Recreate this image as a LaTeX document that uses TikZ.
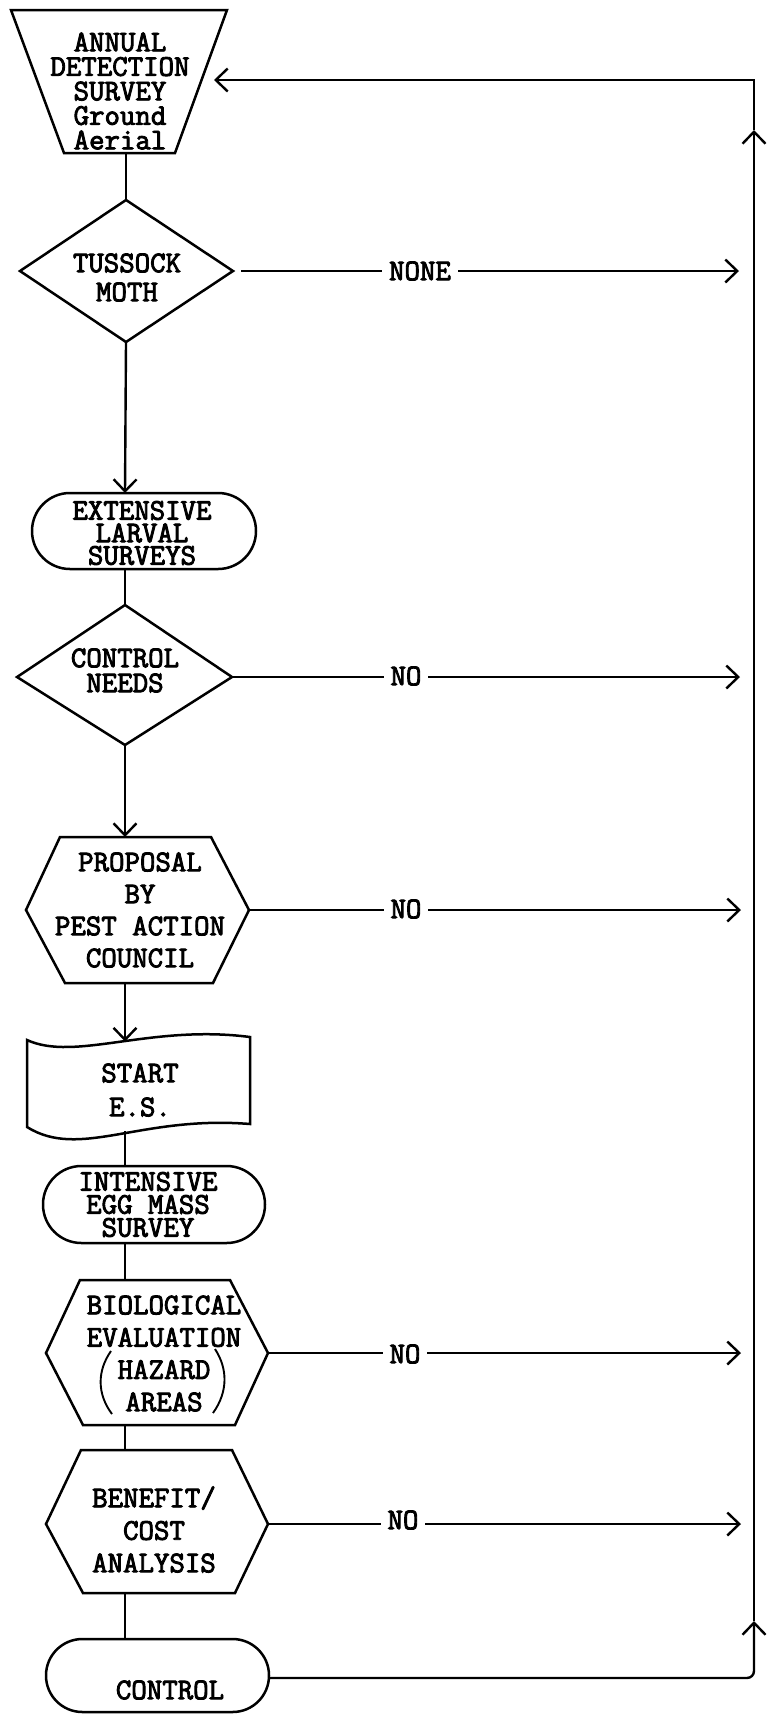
\documentclass[tikz,border=0pt]{standalone}
\usetikzlibrary{arrows.meta}
\newcommand\heavytext{\special{pdf:literal direct 2 Tr 0.9 w}}
\begin{document}
\begin{tikzpicture}[x=1pt,y=-1pt,
  shp/.style={line width=2.5pt, line join=miter},
  conn/.style={line width=2.4pt},
  arr/.style={conn,-{Straight Barb[length=12pt,width=23pt]}},
  lbl/.style={font=\fontsize{30}{#1}\selectfont\ttfamily\heavytext, inner sep=0pt, align=center},
  lbl/.default=30,
  nolbl/.style={lbl, fill=white, inner xsep=7pt, inner ysep=2pt},
  paren/.style={line width=1.9pt}]
\useasboundingbox (0,0) rectangle (767,1714);
\fill[white] (0,0) rectangle (767,1714);

% ---------- shapes ----------
% annual detection survey (trapezoid)
\draw[shp] (11,10) -- (227,10) -- (175,153) -- (64,153) -- cycle;
\node[lbl=24.5] (ann) at (120,91) {ANNUAL\\DETECTION\\SURVEY\\Ground\\Aerial};
\coordinate (ann-s) at (126,153);
\coordinate (ann-in) at (214,80);

% tussock moth (diamond)
\coordinate (tm-n) at (126,200);
\coordinate (tm-e) at (233,271);
\coordinate (tm-s) at (126,342);
\coordinate (tm-w) at (20,271);
\draw[shp] (tm-n) -- (tm-e) -- (tm-s) -- (tm-w) -- cycle;
\node[lbl=29] (tm) at (127,277.5) {TUSSOCK\\MOTH};

% extensive larval surveys (stadium)
\draw[shp, rounded corners=37.9pt] (32,493) rectangle (256,569);
\node[lbl=22.5] (ext) at (142,533) {EXTENSIVE\\LARVAL\\SURVEYS};
\coordinate (ext-n) at (125,493);
\coordinate (ext-s) at (125,569);

% control needs (diamond)
\coordinate (cn-n) at (125,605);
\coordinate (cn-e) at (232,677);
\coordinate (cn-s) at (125,745);
\coordinate (cn-w) at (17,677);
\draw[shp] (cn-n) -- (cn-e) -- (cn-s) -- (cn-w) -- cycle;
\node[lbl=25] (cn) at (125,670.5) {CONTROL\\NEEDS};

% proposal (hexagon)
\draw[shp] (60,837) -- (211,837) -- (249,910) -- (213,983) -- (65,983) -- (26,910) -- cycle;
\node[lbl=32] (pr) at (140,910) {PROPOSAL\\BY\\PEST ACTION\\COUNCIL};
\coordinate (pr-n) at (125,837);
\coordinate (pr-e) at (249,910);
\coordinate (pr-s) at (125,983);

% start E.S. (document / tape)
\draw[shp] (27,1040) .. controls (75,1062) and (150,1024) .. (250,1037)
  -- (250,1124) .. controls (140,1115) and (80,1160) .. (27,1127) -- cycle;
\node[lbl=34] (st) at (140,1090) {START\\E.S.};
\coordinate (st-n) at (125,1041.5);
\coordinate (st-s) at (125,1131);

% intensive egg mass survey (stadium)
\draw[shp, rounded corners=38.4pt] (43,1166) rectangle (265,1243);
\node[lbl=23] (int) at (148,1204.5) {INTENSIVE\\EGG MASS\\SURVEY};
\coordinate (int-n) at (125,1166);
\coordinate (int-s) at (125,1243);

% biological evaluation (hexagon)
\draw[shp] (80,1280) -- (230,1280) -- (268,1353) -- (235,1425) -- (83,1425) -- (46,1353) -- cycle;
\node[lbl=32.3] (bio) at (164,1353.5) {BIOLOGICAL\\EVALUATION\\HAZARD\\AREAS};
\draw[paren] (111,1351) .. controls (97,1371) and (97,1394) .. (112,1414);
\draw[paren] (215,1349) .. controls (228,1369) and (228,1392) .. (213,1413);
\coordinate (bio-n) at (125,1280);
\coordinate (bio-e) at (268,1353);
\coordinate (bio-s) at (125,1425);

% benefit/cost analysis (hexagon)
\draw[shp] (81,1450) -- (232,1450) -- (268,1524) -- (235,1593) -- (83,1593) -- (46,1524) -- cycle;
\node[lbl=32.5] (ben) at (154,1529.5) {BENEFIT/\\COST\\ANALYSIS};
\coordinate (ben-n) at (125,1450);
\coordinate (ben-e) at (268,1524);
\coordinate (ben-s) at (125,1593);

% control (stadium)
\draw[shp, rounded corners=36.4pt] (46,1639) rectangle (269,1712);
\node[lbl] (ctl) at (170,1690) {CONTROL};
\coordinate (ctl-n) at (125,1639);
\coordinate (ctl-e) at (269,1678);

% ---------- return line ----------
\coordinate (br) at (754,1678);
\coordinate (up1) at (754,1621);
\coordinate (up2) at (754,130);
\coordinate (tr) at (754,80);

% ---------- connectors ----------
\draw[conn] (ann-s) -- (tm-n);
\draw[arr] (tm-s) -- (ext-n);
\draw[conn] (ext-s) -- (cn-n);
\draw[arr] (cn-s) -- (pr-n);
\draw[arr] (pr-s) -- (st-n);
\draw[conn] (st-s) -- (int-n);
\draw[conn] (int-s) -- (bio-n);
\draw[conn] (bio-s) -- (ben-n);
\draw[conn] (ben-s) -- (ctl-n);

\draw[arr, rounded corners=7pt] (ctl-e) -- (br) -- (up1);
\draw[arr] (up1) -- (up2);
\draw[arr] (up2) -- (tr) -- (ann-in);

% NO / NONE branches
\coordinate (tip1) at (739,271);
\coordinate (tip2) at (740,677);
\coordinate (tip3) at (741,910);
\coordinate (tip4) at (741,1353);
\coordinate (tip5) at (741,1524);
\draw[arr, shorten <=8pt] (tm-e) -- (tip1);
\draw[arr] (cn-e) -- (tip2);
\draw[arr] (pr-e) -- (tip3);
\draw[arr] (bio-e) -- (tip4);
\draw[arr] (ben-e) -- (tip5);
\node[nolbl] (l1) at (420,271) {NONE};
\node[nolbl] (l2) at (406,676) {NO};
\node[nolbl] (l3) at (406,909) {NO};
\node[nolbl] (l4) at (405,1354) {NO};
\node[nolbl] (l5) at (403,1520) {NO};
\end{tikzpicture}
\end{document}
